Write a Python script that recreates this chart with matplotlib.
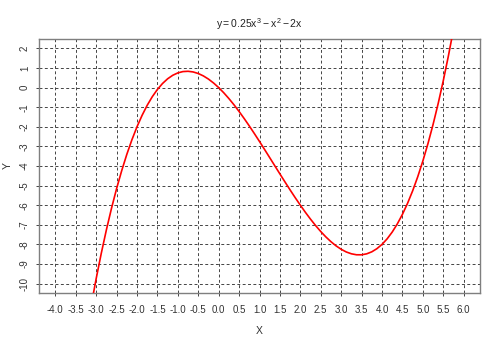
import matplotlib
matplotlib.use("Agg")
import matplotlib.pyplot as plt

xs = [-3.25, -3.125, -3.0, -2.875, -2.75, -2.625, -2.5, -2.375, -2.25, -2.125,
      -2.0, -1.875, -1.75, -1.625, -1.5, -1.375, -1.25, -1.125, -1.0, -0.875,
      -0.75, -0.625, -0.5, -0.375, -0.25, -0.125, 0.0, 0.125, 0.25, 0.375,
      0.5, 0.625, 0.75, 0.875, 1.0, 1.125, 1.25, 1.375, 1.5, 1.625,
      1.75, 1.875, 2.0, 2.125, 2.25, 2.375, 2.5, 2.625, 2.75, 2.875,
      3.0, 3.125, 3.25, 3.375, 3.5, 3.625, 3.75, 3.875, 4.0, 4.125,
      4.25, 4.375, 4.5, 4.625, 4.75, 4.875, 5.0, 5.125, 5.25, 5.375,
      5.5, 5.625, 5.75, 5.875, 6.0]
ys = [-12.645, -11.145, -9.75, -8.457, -7.262, -6.163, -5.156, -4.240, -3.410, -2.665,
      -2.0, -1.414, -0.902, -0.463, -0.094, 0.209, 0.449, 0.628, 0.75, 0.817,
      0.832, 0.798, 0.719, 0.596, 0.434, 0.234, 0.0, -0.265, -0.559, -0.877,
      -1.219, -1.580, -1.957, -2.348, -2.75, -3.160, -3.574, -3.991, -4.406, -4.818,
      -5.223, -5.618, -6.0, -6.367, -6.715, -7.042, -7.344, -7.619, -7.863, -8.075,
      -8.25, -8.387, -8.480, -8.530, -8.531, -8.482, -8.379, -8.219, -8.0, -7.719,
      -7.371, -6.955, -6.469, -5.908, -5.270, -4.551, -3.75, -2.863, -1.887, -0.819,
      0.344, 1.604, 2.965, 4.429, 6.0]

xticks = [-4.0, -3.5, -3.0, -2.5, -2.0, -1.5, -1.0, -0.5, 0.0, 0.5,
          1.0, 1.5, 2.0, 2.5, 3.0, 3.5, 4.0, 4.5, 5.0, 5.5, 6.0]
yticks = [2, 1, 0, -1, -2, -3, -4, -5, -6, -7, -8, -9, -10]

plt.rcParams['font.family'] = ['Liberation Sans', 'DejaVu Sans']
plt.rcParams['mathtext.fontset'] = 'custom'
plt.rcParams['mathtext.rm'] = 'Liberation Sans'
plt.rcParams['mathtext.it'] = 'Liberation Sans'
plt.rcParams['axes.unicode_minus'] = False

fig = plt.figure(figsize=(5, 3.42), dpi=100)
ax = fig.add_axes([0.078, 0.1433, 0.882, 0.7427])

ax.plot(xs, ys, color='red', linewidth=1.2, zorder=3)

ax.set_xlim(-4.4, 6.4)
ax.set_ylim(-10.48, 2.48)
ax.set_xticks(xticks)
ax.set_xticklabels(["%.1f" % v for v in xticks])
ax.set_yticks(yticks)
ax.set_yticklabels([str(v) for v in yticks], rotation=90, va='center')

ax.grid(True, color='#444444', linestyle=(0, (3, 2.5)), linewidth=0.7)
for s in ax.spines.values():
    s.set_color('#7f7f7f')
    s.set_linewidth(1.0)

ax.tick_params(axis='both', length=2.5, width=0.7, color='#444444',
               labelsize=7, labelcolor='#333333')
ax.tick_params(axis='x', pad=6)
ax.tick_params(axis='y', pad=4)

ax.set_xlabel('X', fontsize=7.5, color='#333333', labelpad=8)
ax.set_ylabel('Y', fontsize=7.5, color='#333333', labelpad=5)
ax.set_title(r'$y = 0.25x^3 - x^2 - 2x$', fontsize=7.5, color='#222222', pad=8)

fig.savefig('out.png', dpi=100)
